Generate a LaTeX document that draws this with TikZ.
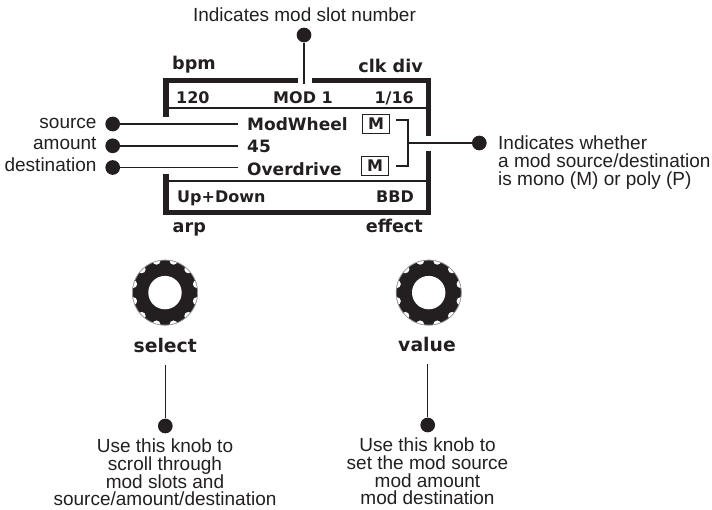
\documentclass[tikz,border=0pt]{standalone}
\usepackage{fontspec}
\setmainfont{Liberation Sans}
\newfontfamily\lcd{DejaVu Sans}
\definecolor{ink}{HTML}{231F20}
\tikzset{
 dotn/.style={circle,fill=ink,draw=none,inner sep=0pt,minimum size=14.7pt},
 lead/.style={draw=ink,line width=1.5pt},
 frame/.style={draw=ink,line width=5.2pt,line join=miter},
 thinrule/.style={draw=ink,line width=1.7pt},
 captxt/.style={font=\lcd\bfseries\fontsize{17.6}{19}\selectfont,text=ink,inner sep=0pt},
 knobtxt/.style={font=\lcd\bfseries\fontsize{18.8}{20}\selectfont,text=ink,inner sep=0pt},
 lcdtxt/.style={font=\lcd\bfseries\fontsize{16}{18}\selectfont,text=ink,inner sep=0pt},
 bigtxt/.style={font=\lcd\bfseries\fontsize{17}{19}\selectfont,text=ink,inner sep=0pt},
 note/.style={font=\fontsize{19}{17.8}\selectfont,text=ink,inner sep=0pt,align=center},
 mbox/.style={draw=ink,line width=1.7pt,font=\lcd\bfseries\fontsize{16}{16}\selectfont,text=ink,inner sep=0pt,minimum width=27pt,minimum height=19pt},
 hub/.style={circle,fill=white,draw=none,inner sep=0pt,minimum size=33.4pt},
}
\begin{document}
\begin{tikzpicture}[x=1pt,y=-1pt]
\useasboundingbox (0,0) rectangle (712,509);
% display frame
\draw[frame] (166,116.7) -- (166,80.2) -- (298,80.2);
\draw[frame] (312,80.2) -- (428.2,80.2) -- (428.2,136);
\draw[frame] (428.2,150.7) -- (428.2,212.5) -- (166,212.5) -- (166,174);
\draw[thinrule] (168,107.7) -- (426,107.7);
\draw[thinrule] (168,180.7) -- (426,180.7);
% captions
\node[captxt,anchor=base west] (bpm) at (172,69) {bpm};
\node[captxt,anchor=base east] (clk) at (423,72) {clk div};
\node[captxt,anchor=base west] (arp) at (172.5,232) {arp};
\node[captxt,anchor=base east] (eff) at (423,232) {effect};
% display text
\node[lcdtxt,anchor=base west] (t120) at (176,103) {120};
\node[lcdtxt,anchor=base] (tmod) at (303,103) {MOD 1};
\node[lcdtxt,anchor=base east] (t116) at (414,103) {1/16};
\node[lcdtxt,anchor=base west] (tup) at (177,202) {Up+Down};
\node[lcdtxt,anchor=base east] (tbbd) at (414,202) {BBD};
\node[bigtxt,anchor=base west] (mw) at (247,130) {ModWheel};
\node[bigtxt,anchor=base west] (n45) at (247,152) {45};
\node[bigtxt,anchor=base west] (od) at (247,175) {Overdrive};
\node[mbox] (m1) at (376,124) {M};
\node[mbox] (m2) at (375,166) {M};
% left labels
\node[dotn] (d1) at (112.7,124) {};
\node[dotn] (d2) at (112.7,145.8) {};
\node[dotn] (d3) at (112.7,167.5) {};
\node[note,anchor=base east] (l1) at (96.7,128.3) {source};
\node[note,anchor=base east] (l2) at (96.7,149.3) {amount};
\node[note,anchor=base east] (l3) at (96.7,171.7) {destination};
\draw[lead] (d1) -- ([xshift=-9pt]mw.west|-d1);
\draw[lead] (d2) -- ([xshift=-9pt]n45.west|-d2);
\draw[lead] (d3) -- ([xshift=-9pt]od.west|-d3);
% top
\node[note,anchor=base] (top) at (304.5,21.5) {Indicates mod slot number};
\node[dotn] (dt) at (304,35) {};
\coordinate (dtend) at (304,84);
\draw[lead] (dt) -- (dtend);
% right
\node[dotn] (dr) at (479.3,143) {};
\node[note,anchor=north west,align=left] (rn) at (498,135.5) {Indicates whether\\a mod source/destination\\is mono (M) or poly (P)};
\coordinate (br) at (408,143);
\coordinate (b1) at (408,120);
\coordinate (b2) at (408,166);
\coordinate (b1s) at (396,120);
\coordinate (b2s) at (396,166);
\draw[lead] (b1s) -- (b1) -- (b2) -- (b2s);
\draw[lead] (br) -- (dr);
% knobs
\foreach \nm/\cx in {ka/165,kb/428.7}{
 \begin{scope}[shift={(\cx,292.6)}]
  \fill[ink] (0,0) circle[radius=32.7];
  \begin{scope}
   \clip (0,0) circle[radius=32.7];
   \foreach \a in {15,45,...,345}
     \fill[white] (\a:33) circle[radius=4];
  \end{scope}
  \draw[ink!45,line width=.7pt] (0,0) circle[radius=32.5];
 \end{scope}
 \node[hub] (\nm) at (\cx,292.6) {};
}
\node[knobtxt,anchor=base] (sel) at (165.2,352.5) {select};
\node[knobtxt,anchor=base] (val) at (427,351) {value};
\node[dotn] (d4) at (165.3,426) {};
\node[dotn] (d5) at (427.7,425) {};
\coordinate (s4) at (165.3,365);
\coordinate (s5) at (427.7,364);
\draw[lead] (s4) -- (d4);
\draw[lead] (s5) -- (d5);
\node[note,anchor=north] (n4) at (165,438.5) {Use this knob to\\scroll through\\mod slots and\\source/amount/destination};
\node[note,anchor=north] (n5) at (427.5,437.5) {Use this knob to\\set the mod source\\mod amount\\mod destination};
\end{tikzpicture}
\end{document}
